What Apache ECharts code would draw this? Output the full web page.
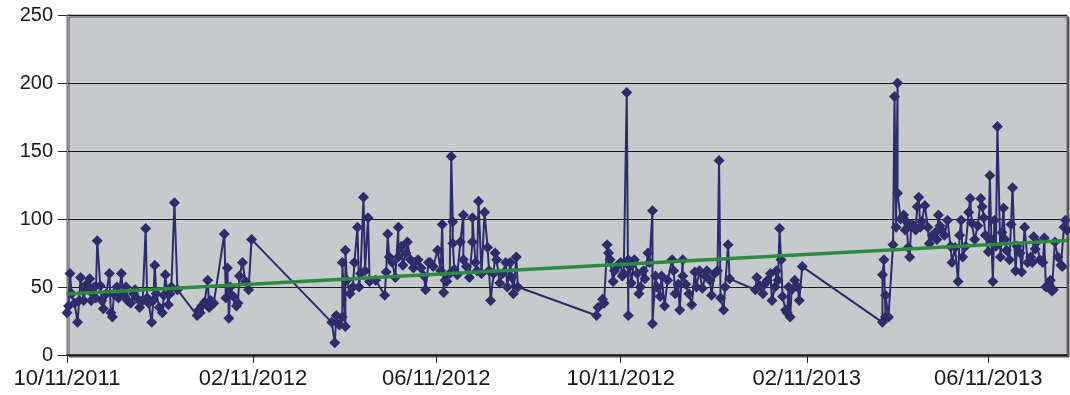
<!DOCTYPE html>
<html>
<head>
<meta charset="utf-8">
<script src="https://cdn.jsdelivr.net/npm/echarts@6/dist/echarts.min.js"></script>
<style>
  html, body { margin: 0; padding: 0; background: #ffffff; }
  #chart { width: 1070px; height: 395px; }
</style>
</head>
<body>
<div id="chart"></div>
<script>
// First reading date; every reading is stored as a day offset from it.
const startDate = '2011-10-11';

// Dates that carry a tick and a label on the time axis.
const tickDates = ['2011-10-11', '2012-02-11', '2012-06-11', '2012-10-11', '2013-02-11', '2013-06-11'];

// Day offsets of the readings (from startDate).
const dayIndex = [
  0, 1, 2, 3, 5, 7, 8, 9, 11, 12, 13, 15, 16, 17, 18, 19, 20, 22, 23, 24, 26, 28, 29, 30, 31, 33, 34, 36, 37, 38,
  39, 40, 42, 44, 45, 46, 48, 50, 52, 53, 54, 56, 57, 58, 59, 61, 63, 64, 65, 67, 68, 69, 71, 73,
  86, 87, 88, 89, 91, 93, 94, 95, 97, 104, 105, 106, 107, 108, 110, 112, 113, 114, 116, 118, 120, 122,
  175, 177, 178, 180, 182, 182, 184, 184, 185, 187, 189, 190, 192, 193, 194, 196, 197, 199, 200, 204,
  210, 211, 212, 213, 215, 217, 219, 219, 221, 222, 224, 225, 227, 229, 230, 232, 234, 236, 237, 239,
  240, 242, 245, 247, 248, 249, 250, 251, 253, 254, 255, 255, 256, 258, 260, 262, 262, 264, 266, 268,
  268, 270, 271, 272, 274, 276, 278, 279, 280, 282, 283, 284, 286, 288, 290, 291, 293, 294, 295, 297, 298,
  350, 351, 354, 355, 357, 358, 359, 361, 362, 364, 366, 367, 368, 370, 371, 371, 372, 373, 375, 377,
  378, 379, 381, 382, 384, 385, 387, 387, 389, 390, 392, 393, 395, 397, 400, 401, 402, 404, 405, 407,
  407, 409, 411, 413, 415, 416, 418, 420, 422, 423, 425, 426, 428, 430, 431, 432, 434, 435, 437, 438,
  455, 456, 458, 460, 461, 463, 465, 466, 468, 469, 470, 471, 472, 473, 475, 476, 477, 478, 479, 481, 483, 484, 486,
  539, 539, 540, 541, 541, 543, 546, 547, 548, 549, 549, 551, 553, 554, 555, 556, 557, 558, 559, 561,
  562, 563, 564, 565, 567, 569, 570, 572, 574, 575, 576, 577, 578, 580, 582, 584, 585, 587, 589, 590,
  591, 592, 594, 596, 597, 598, 600, 602, 604, 605, 606, 607, 609, 610, 611, 612, 613, 614, 615, 617,
  618, 619, 620, 621, 623, 624, 625, 627, 628, 630, 631, 633, 635, 637, 638, 639, 640, 641, 643, 645,
  646, 647, 649, 650, 651, 652, 653, 655, 657, 658, 659, 660, 661
];

// Reading values, one per entry of dayIndex.
const readings = [
  31, 36, 60, 45, 38, 24, 40, 57, 40, 48, 52, 56, 40, 45, 50, 42, 84, 51, 40, 34, 45, 60, 31, 28, 45, 50, 42, 60, 45, 43,
  50, 40, 38, 45, 48, 42, 35, 40, 93, 42, 38, 24, 40, 66, 45, 35, 31, 44, 59, 37, 45, 50, 112, 48,
  29, 33, 31, 36, 39, 55, 35, 40, 38, 89, 42, 64, 27, 50, 43, 36, 38, 58, 68, 54, 48, 85,
  24, 9, 29, 22, 28, 68, 21, 77, 55, 45, 50, 68, 94, 50, 60, 116, 62, 101, 54, 55,
  44, 61, 89, 72, 68, 57, 94, 72, 80, 66, 75, 83, 70, 64, 68, 70, 64, 58, 48, 68,
  68, 65, 77, 62, 96, 46, 55, 54, 60, 146, 98, 82, 63, 59, 83, 103, 70, 65, 57, 83,
  101, 68, 62, 113, 60, 105, 79, 62, 40, 60, 75, 70, 53, 60, 68, 50, 68, 57, 45, 72, 50,
  29, 35, 41, 38, 81, 75, 70, 54, 62, 66, 68, 58, 60, 193, 29, 70, 65, 53, 70, 60,
  45, 50, 62, 56, 75, 68, 106, 23, 58, 50, 43, 58, 36, 55, 70, 62, 45, 52, 33, 70,
  58, 52, 45, 37, 61, 50, 62, 49, 58, 62, 55, 44, 60, 62, 143, 42, 33, 50, 81, 56,
  48, 57, 51, 45, 52, 55, 60, 40, 50, 62, 55, 93, 70, 43, 33, 31, 50, 28, 48, 55, 50, 40, 65,
  24, 59, 70, 28, 44, 28, 81, 190, 94, 200, 119, 100, 103, 92, 98, 79, 72, 95, 96, 92,
  109, 116, 94, 98, 110, 94, 82, 88, 90, 85, 103, 95, 92, 88, 99, 80, 68, 79, 54, 88,
  99, 72, 80, 105, 115, 97, 85, 95, 115, 109, 101, 88, 76, 132, 85, 54, 99, 80, 168, 72,
  90, 108, 85, 77, 70, 96, 123, 62, 80, 75, 61, 94, 68, 72, 68, 87, 78, 83, 70, 68,
  86, 50, 52, 55, 47, 48, 83, 72, 66, 65, 94, 99, 92
];

// Value axis range and step.
const yMin = 0;
const yMax = 250;
const yStep = 50;

const DAY_MS = 86400000;
const t0 = Date.parse(startDate + 'T00:00:00Z');
const toDay = s => Math.round((Date.parse(s + 'T00:00:00Z') - t0) / DAY_MS);
const pad = n => (n < 10 ? '0' : '') + n;
const fmtDay = d => {
  const dt = new Date(t0 + d * DAY_MS);
  return pad(dt.getUTCMonth() + 1) + '/' + pad(dt.getUTCDate()) + '/' + dt.getUTCFullYear();
};

const tickDays = tickDates.map(toDay);
const points = dayIndex.map((d, i) => [d, readings[i]]);
const lastDay = dayIndex[dayIndex.length - 1];

// Linear least-squares trend through the readings.
const n = points.length;
let sx = 0, sy = 0, sxx = 0, sxy = 0;
points.forEach(([x, y]) => { sx += x; sy += y; sxx += x * x; sxy += x * y; });
const slope = (n * sxy - sx * sy) / (n * sxx - sx * sx);
const intercept = (sy - slope * sx) / n;
const trend = [[0, intercept], [lastDay, intercept + slope * lastDay]];

const fontFamily = 'Liberation Sans, Arial, sans-serif';

const chart = echarts.init(document.getElementById('chart'));
chart.setOption({
  animation: false,
  grid: {
    left: 67, right: 3, top: 15, bottom: 40,
    show: true,
    backgroundColor: '#C8C9CC',
    borderColor: '#666666',
    borderWidth: 1,
    shadowColor: '#555555',
    shadowBlur: 0,
    shadowOffsetX: 2,
    shadowOffsetY: 2
  },
  xAxis: {
    type: 'value',
    min: 0,
    max: lastDay,
    axisLine: { show: true, onZero: false, lineStyle: { color: '#222222', width: 1.5 } },
    axisTick: { show: true, inside: false, length: 8, customValues: tickDays, lineStyle: { color: '#222222' } },
    axisLabel: {
      customValues: tickDays,
      formatter: v => fmtDay(v),
      margin: 13,
      fontFamily: fontFamily,
      fontSize: 22,
      color: '#1a1a1a'
    },
    splitLine: { show: false }
  },
  yAxis: {
    type: 'value',
    min: yMin,
    max: yMax,
    interval: yStep,
    axisLine: { show: true, lineStyle: { color: '#888888', width: 1 } },
    axisTick: { show: true, inside: false, length: 9, lineStyle: { color: '#222222' } },
    axisLabel: { margin: 14, fontFamily: fontFamily, fontSize: 20, color: '#1a1a1a' },
    splitLine: { show: true, lineStyle: { color: '#1a1a1a', width: 1 } }
  },
  series: [
    {
      type: 'line',
      data: points,
      symbol: 'diamond',
      symbolSize: 11,
      lineStyle: { color: '#2C2D6A', width: 2 },
      itemStyle: { color: '#2C2D6A' },
      z: 2
    },
    {
      type: 'line',
      data: trend,
      symbol: 'none',
      lineStyle: { color: '#2E8B3E', width: 3.5 },
      z: 3
    }
  ]
});
</script>
</body>
</html>
